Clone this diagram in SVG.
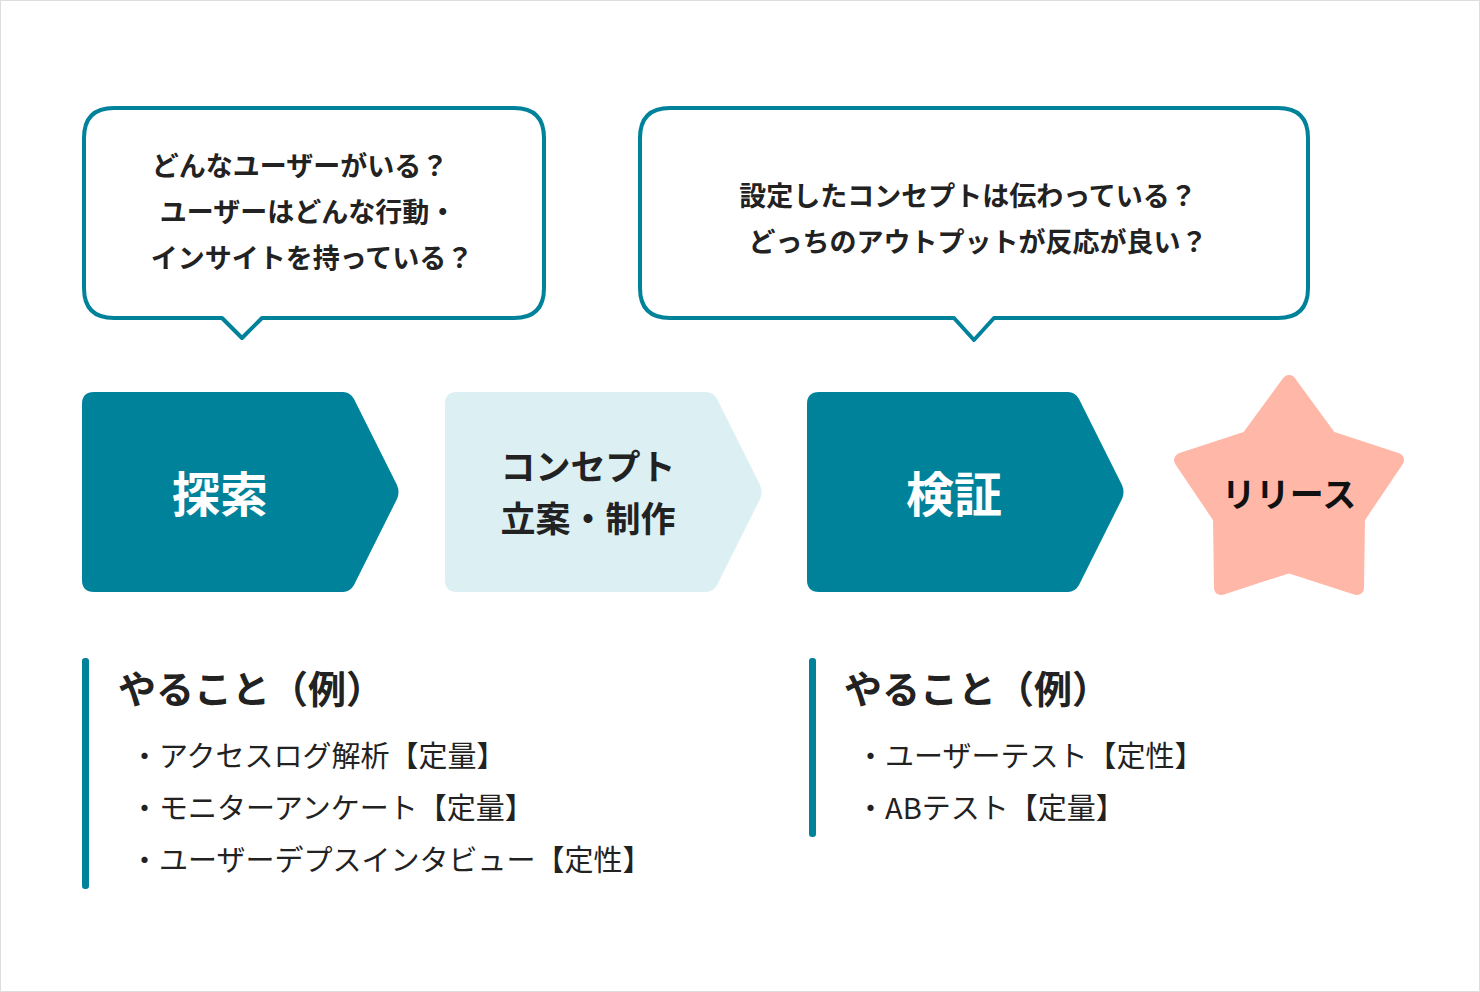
<svg xmlns="http://www.w3.org/2000/svg" width="1480" height="992" viewBox="0 0 1480 992">
<style>
text{font-family:"Noto Sans CJK JP","Noto Sans",sans-serif;}
.b{fill:#fff;stroke:#00829A;stroke-width:4;stroke-linejoin:round}
.q{font-size:27px;font-weight:bold;fill:#222;text-anchor:middle}
.h{font-size:38px;font-weight:bold;fill:#222}
.i{font-size:29px;fill:#222}
.bar{fill:#00829A}
</style>
<rect x="0.5" y="0.5" width="1479" height="991" fill="#fff" stroke="#ddd"/>
<g id="bubble1">
<path class="b" d="M114 108 H514 Q544 108 544 138 V288 Q544 318 514 318 H262 L242 338 L222 318 H114 Q84 318 84 288 V138 Q84 108 114 108 Z"/>
<text class="q" x="300" y="176">どんなユーザーがいる？</text>
<text class="q" x="308" y="222">ユーザーはどんな行動・</text>
<text class="q" x="312" y="268">インサイトを持っている？</text>
</g>
<g id="bubble2">
<path class="b" d="M670 108 H1278 Q1308 108 1308 138 V288 Q1308 318 1278 318 H994 L974 340 L954 318 H670 Q640 318 640 288 V138 Q640 108 670 108 Z"/>
<text class="q" x="968" y="206">設定したコンセプトは伝わっている？</text>
<text class="q" x="978" y="252">どっちのアウトプットが反応が良い？</text>
</g>
<g id="explore">
<path d="M94 392 H343 Q350 392 354 399 L397 485 Q400 492 397 499 L354 585 Q350 592 343 592 H94 Q82 592 82 580 V404 Q82 392 94 392 Z" fill="#00829A"/>
<text x="220" y="512" font-size="48" font-weight="bold" fill="#fff" text-anchor="middle">探索</text>
</g>
<g id="concept">
<path d="M457 392 H706 Q713 392 717 399 L760 485 Q763 492 760 499 L717 585 Q713 592 706 592 H457 Q445 592 445 580 V404 Q445 392 457 392 Z" fill="#DCEFF2"/>
<text x="588" y="480" font-size="35" font-weight="bold" fill="#222" text-anchor="middle">コンセプト</text>
<text x="588" y="532" font-size="35" font-weight="bold" fill="#222" text-anchor="middle">立案・制作</text>
</g>
<g id="verify">
<path d="M819 392 H1068 Q1075 392 1079 399 L1122 485 Q1125 492 1122 499 L1079 585 Q1075 592 1068 592 H819 Q807 592 807 580 V404 Q807 392 819 392 Z" fill="#00829A"/>
<text x="954" y="512" font-size="48" font-weight="bold" fill="#fff" text-anchor="middle">検証</text>
</g>
<g id="release">
<path d="M1289 382 L1330 438 L1397 460 L1358 518 L1357 588 L1289 566 L1221 588 L1220 518 L1181 460 L1248 438 Z" fill="#FFB7A8" stroke="#FFB7A8" stroke-width="14" stroke-linejoin="round"/>
<text x="1289" y="507" font-size="34" font-weight="bold" fill="#111" text-anchor="middle">リリース</text>
</g>
<g id="todo1">
<rect class="bar" x="82" y="658" width="7" height="231" rx="3"/>
<text class="h" x="118" y="703">やること（例）</text>
<text class="i" x="130" y="767">・アクセスログ解析【定量】</text>
<text class="i" x="130" y="819">・モニターアンケート【定量】</text>
<text class="i" x="130" y="871">・ユーザーデプスインタビュー【定性】</text>
</g>
<g id="todo2">
<rect class="bar" x="809" y="658" width="7" height="179" rx="3"/>
<text class="h" x="844" y="703">やること（例）</text>
<text class="i" x="856" y="767">・ユーザーテスト【定性】</text>
<text class="i" x="856" y="819">・ABテスト【定量】</text>
</g>
<g id="connectors"/>
</svg>
